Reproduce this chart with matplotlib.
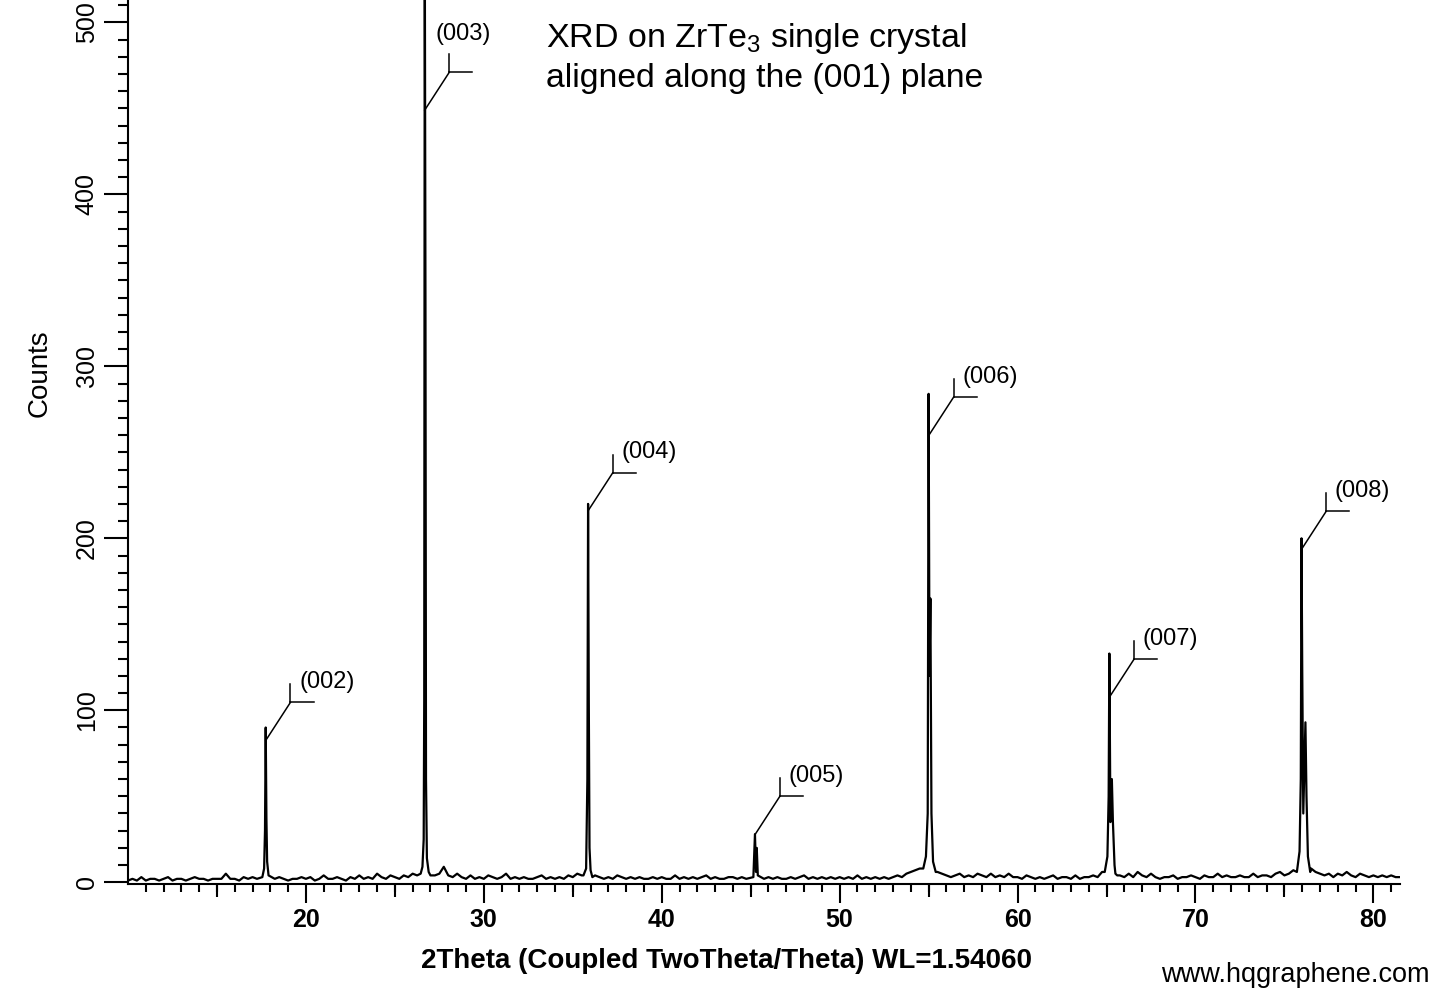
import matplotlib
matplotlib.use("Agg")
import matplotlib.pyplot as plt
import numpy as np

plt.rcParams['font.family'] = ['Liberation Sans', 'DejaVu Sans']
plt.rcParams['mathtext.fontset'] = 'custom'
plt.rcParams['mathtext.rm'] = 'Liberation Sans'

# baseline counts, every 0.25 deg from 10.0 to 81.5
base_start = 10.0
base_step = 0.25
base_counts = [
    1, 2, 1, 3, 1, 2, 2, 1, 2, 3, 1, 2, 2, 1, 2, 3, 2, 2, 1, 2,      # 10-15
    2, 2, 5, 2, 2, 1, 3, 2, 3, 2, 2, 3, 2, 2, 3, 2, 1, 2, 2, 3,      # 15-20
    2, 3, 1, 2, 4, 2, 2, 3, 2, 1, 3, 2, 4, 2, 3, 2, 5, 3, 2, 4,      # 20-25
    3, 2, 4, 3, 5, 4, 6, 5, 4, 4, 5, 9, 4, 3, 5, 3, 2, 4, 2, 3,      # 25-30
    2, 4, 3, 2, 3, 5, 2, 3, 2, 3, 2, 2, 3, 4, 2, 3, 2, 3, 2, 4,      # 30-35
    3, 5, 4, 6, 3, 4, 3, 2, 3, 2, 4, 3, 2, 3, 2, 3, 2, 2, 3, 2,      # 35-40
    3, 2, 2, 4, 2, 3, 2, 3, 2, 3, 4, 2, 3, 2, 2, 3, 3, 2, 3, 2,      # 40-45
    2, 3, 4, 2, 3, 2, 3, 2, 2, 3, 2, 3, 4, 2, 3, 2, 3, 2, 3, 2,      # 45-50
    3, 2, 3, 2, 4, 2, 3, 2, 3, 2, 3, 2, 3, 4, 3, 5, 6, 7, 8, 10,     # 50-55
    12, 9, 6, 5, 4, 3, 4, 5, 3, 4, 3, 5, 4, 3, 5, 3, 4, 3, 5, 3,     # 55-60
    3, 2, 4, 3, 2, 3, 2, 3, 4, 2, 3, 3, 2, 4, 2, 3, 3, 4, 3, 6,      # 60-65
    8, 6, 5, 4, 3, 5, 3, 6, 4, 3, 5, 3, 2, 3, 3, 4, 2, 3, 3, 4,      # 65-70
    3, 2, 4, 3, 3, 5, 3, 4, 3, 3, 4, 3, 3, 5, 3, 4, 4, 3, 5, 6,      # 70-75
    4, 5, 7, 9, 12, 10, 8, 6, 5, 4, 5, 3, 5, 4, 6, 4, 3, 5, 4, 3,    # 75-80
    4, 3, 4, 3, 4, 3, 3,                                             # 80-81.5
]

# points across the reflections (K-alpha1 / K-alpha2 doublets)
peak_tt = [
    17.55, 17.65, 17.70, 17.74, 17.78, 17.82, 17.90,
    26.45, 26.55, 26.62, 26.65, 26.68, 26.72, 26.75, 26.80, 26.90,
    35.60, 35.75, 35.82, 35.86, 35.90, 35.94, 36.00, 36.10,
    45.15, 45.24, 45.30, 45.34, 45.40,
    54.70, 54.85, 54.95, 55.00, 55.05, 55.10, 55.16, 55.25, 55.40,
    64.90, 65.05, 65.12, 65.16, 65.22, 65.30, 65.36, 65.45, 65.60,
    75.70, 75.85, 75.92, 75.96, 76.00, 76.06, 76.18, 76.24, 76.32, 76.45,
]
peak_counts = [
    3, 8, 30, 90, 37, 12, 4,
    5, 9, 25, 105, 560, 336, 60, 14, 6,
    4, 8, 60, 220, 105, 20, 7, 3,
    3, 28, 6, 20, 4,
    8, 15, 40, 284, 120, 165, 40, 12, 6,
    6, 15, 50, 133, 35, 60, 35, 10, 4,
    6, 18, 60, 200, 125, 40, 93, 50, 15, 6,
]

# peak search labels
hkl = ['(002)', '(003)', '(004)', '(005)', '(006)', '(007)', '(008)']
hkl_tt = [17.75, 26.68, 35.86, 45.26, 55.02, 65.16, 75.96]
hkl_mark = [82.6, 449, 216, 28, 260, 107.6, 193.6]

# merge baseline and peaks
base_tt = base_start + base_step * np.arange(len(base_counts))
base_counts = np.array(base_counts, dtype=float)
keep = np.ones(len(base_tt), dtype=bool)
for c in hkl_tt:
    keep &= np.abs(base_tt - c) > 0.3
tt = np.concatenate([base_tt[keep], peak_tt])
cnt = np.concatenate([base_counts[keep], peak_counts])
order = np.argsort(tt)
tt, cnt = tt[order], cnt[order]

fig = plt.figure(figsize=(14.48, 10), dpi=100)
ax = fig.add_axes([0.0884, 0.116, 0.8785, 0.884])

ax.plot(tt, cnt, color='black', linewidth=1.6, clip_on=True)

# callouts
for lab, x0, y0 in zip(hkl, hkl_tt, hkl_mark):
    xc, yc = x0 + 1.38, y0 + 22
    ax.plot([x0, xc], [y0, yc], color='black', linewidth=1.1)
    ax.plot([xc, xc], [yc, yc + 10.5], color='black', linewidth=1.1)
    ax.plot([xc, xc + 1.3], [yc, yc], color='black', linewidth=1.1)
    if lab == '(003)':
        ax.text(xc - 0.75, yc + 22, lab, fontsize=17, ha='left', va='center')
    else:
        ax.text(xc + 0.5, yc + 12, lab, fontsize=17, ha='left', va='center')

ax.set_xlim(10, 81.5)
ax.set_ylim(-1, 513)

ax.spines['top'].set_visible(False)
ax.spines['right'].set_visible(False)
ax.spines['left'].set_linewidth(1.5)
ax.spines['bottom'].set_linewidth(1.5)

ax.set_xticks(np.arange(20, 81, 10))
ax.set_xticks(np.arange(11, 82, 1), minor=True)
ax.set_yticks(np.arange(0, 501, 100))
ax.set_yticks(np.arange(0, 511, 10), minor=True)
ax.tick_params(axis='x', which='major', length=14, width=1.5, pad=3, labelsize=18)
ax.tick_params(axis='x', which='minor', length=6, width=1.5)
ax.tick_params(axis='y', which='major', length=17, width=1.5, pad=4, labelsize=18)
ax.tick_params(axis='y', which='minor', length=7, width=1.5)
for t in ax.get_xticklabels():
    t.set_fontweight('bold')
for t in ax.get_yticklabels():
    t.set_rotation(90)
    t.set_va('center')

# medium ticks at the fives
sec = ax.secondary_xaxis('bottom')
sec.set_xticks(np.arange(15, 80, 10))
sec.tick_params(length=9, width=1.5, labelbottom=False)
sec.spines['bottom'].set_visible(False)

fig.text(0.502, 0.039, '2Theta (Coupled TwoTheta/Theta) WL=1.54060', fontsize=20,
         fontweight='bold', ha='center', va='center')
fig.text(0.0276, 0.627, 'Counts', fontsize=20, rotation=90, ha='center', va='center')

fig.text(0.377, 0.961, 'XRD on ZrTe$\\mathregular{_3}$ single crystal', fontsize=24.5, va='center')
fig.text(0.377, 0.921, 'aligned along the (001) plane', fontsize=24.3, va='center')
fig.text(0.987, 0.025, 'www.hqgraphene.com', fontsize=19.5, ha='right', va='center')

fig.savefig('out.png', dpi=100)
